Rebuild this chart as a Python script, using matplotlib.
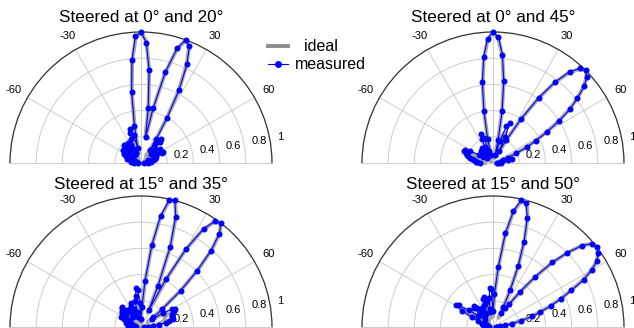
import numpy as np
import matplotlib
matplotlib.use("Agg")
import matplotlib.pyplot as plt
from matplotlib.lines import Line2D

plt.rcParams["font.family"] = ["Liberation Sans", "DejaVu Sans"]

# angular sampling of the scan, degrees (rows of 8 below: -90, -70, -50, -30, -10, 10, 30, 50, 70, 90)
THETA = np.arange(-90, 90.01, 2.5)
TITLES = ["Steered at 0° and 20°", "Steered at 0° and 45°",
          "Steered at 15° and 35°", "Steered at 15° and 50°"]
RTICKS = [0.2, 0.4, 0.6, 0.8, 1.0]
RTICK_LABELS = ["0.2", "0.4", "0.6", "0.8", "1"]
TTICKS = [-90, -60, -30, 0, 30, 60, 90]
TTICK_LABELS = ["", "-60", "-30", "", "30", "60", ""]

MEAS_0_20 = [0.02, 0.05, 0.08, 0.06, 0.03, 0.07, 0.11, 0.10,
             0.05, 0.08, 0.13, 0.15, 0.12, 0.15, 0.17, 0.14,
             0.08, 0.12, 0.17, 0.19, 0.15, 0.08, 0.13, 0.18,
             0.16, 0.09, 0.12, 0.20, 0.24, 0.27, 0.22, 0.12,
             0.29, 0.55, 0.79, 0.97, 1.00, 0.92, 0.71, 0.42,
             0.20, 0.43, 0.72, 0.92, 1.00, 0.965, 0.83, 0.63,
             0.40, 0.22, 0.12, 0.18, 0.24, 0.22, 0.15, 0.10,
             0.14, 0.18, 0.17, 0.13, 0.15, 0.19, 0.18, 0.12,
             0.06, 0.08, 0.11, 0.09, 0.05, 0.06, 0.08, 0.05,
             0.02]
IDEAL_0_20 = [0.01, 0.03, 0.05, 0.04, 0.01, 0.04, 0.07, 0.06,
              0.02, 0.05, 0.09, 0.10, 0.07, 0.09, 0.11, 0.08,
              0.03, 0.08, 0.12, 0.13, 0.09, 0.03, 0.09, 0.13,
              0.11, 0.04, 0.08, 0.15, 0.19, 0.20, 0.16, 0.07,
              0.27, 0.54, 0.78, 0.95, 1.00, 0.93, 0.72, 0.44,
              0.19, 0.42, 0.71, 0.91, 1.00, 0.96, 0.82, 0.62,
              0.39, 0.20, 0.07, 0.12, 0.17, 0.16, 0.10, 0.05,
              0.09, 0.12, 0.12, 0.08, 0.10, 0.13, 0.12, 0.07,
              0.03, 0.05, 0.07, 0.05, 0.02, 0.04, 0.05, 0.03,
              0.01]

MEAS_0_45 = [0.10, 0.12, 0.13, 0.15, 0.16, 0.18, 0.20, 0.21,
             0.22, 0.24, 0.24, 0.20, 0.12, 0.09, 0.12, 0.10,
             0.06, 0.10, 0.13, 0.12, 0.07, 0.10, 0.14, 0.12,
             0.08, 0.14, 0.20, 0.24, 0.20, 0.10, 0.06, 0.19,
             0.40, 0.62, 0.815, 0.95, 1.00, 0.96, 0.83, 0.63,
             0.40, 0.18, 0.06, 0.18, 0.30, 0.33, 0.22, 0.10,
             0.20, 0.40, 0.61, 0.78, 0.91, 0.98, 1.00, 0.97,
             0.91, 0.81, 0.72, 0.60, 0.48, 0.37, 0.29, 0.19,
             0.12, 0.08, 0.12, 0.15, 0.12, 0.06, 0.04, 0.06,
             0.03]
IDEAL_0_45 = [0.06, 0.08, 0.09, 0.10, 0.11, 0.12, 0.13, 0.14,
              0.15, 0.16, 0.15, 0.12, 0.06, 0.04, 0.07, 0.06,
              0.02, 0.06, 0.08, 0.07, 0.03, 0.06, 0.09, 0.08,
              0.04, 0.09, 0.14, 0.17, 0.14, 0.06, 0.04, 0.18,
              0.39, 0.61, 0.80, 0.94, 1.00, 0.95, 0.82, 0.62,
              0.39, 0.17, 0.04, 0.14, 0.24, 0.26, 0.17, 0.06,
              0.19, 0.39, 0.60, 0.77, 0.90, 0.97, 1.00, 0.97,
              0.90, 0.81, 0.71, 0.59, 0.47, 0.36, 0.27, 0.17,
              0.09, 0.05, 0.08, 0.10, 0.08, 0.04, 0.02, 0.03,
              0.02]

MEAS_15_35 = [0.04, 0.08, 0.10, 0.08, 0.05, 0.09, 0.12, 0.11,
              0.07, 0.10, 0.14, 0.17, 0.15, 0.10, 0.14, 0.18,
              0.19, 0.16, 0.20, 0.21, 0.17, 0.10, 0.12, 0.16,
              0.15, 0.10, 0.18, 0.20, 0.15, 0.08, 0.12, 0.20,
              0.24, 0.30, 0.28, 0.18, 0.06, 0.15, 0.355, 0.63,
              0.86, 0.99, 1.00, 0.88, 0.65, 0.335, 0.14, 0.41,
              0.69, 0.89, 0.99, 1.00, 0.93, 0.79, 0.60, 0.41,
              0.21, 0.12, 0.10, 0.20, 0.27, 0.29, 0.28, 0.26,
              0.25, 0.25, 0.25, 0.22, 0.19, 0.14, 0.09, 0.05,
              0.02]
IDEAL_15_35 = [0.02, 0.05, 0.06, 0.05, 0.02, 0.05, 0.08, 0.07,
               0.03, 0.06, 0.09, 0.11, 0.09, 0.05, 0.09, 0.12,
               0.13, 0.10, 0.14, 0.15, 0.11, 0.05, 0.07, 0.11,
               0.10, 0.05, 0.12, 0.14, 0.10, 0.04, 0.08, 0.15,
               0.19, 0.24, 0.22, 0.12, 0.03, 0.14, 0.34, 0.62,
               0.85, 0.98, 1.00, 0.89, 0.66, 0.34, 0.12, 0.40,
               0.68, 0.88, 0.98, 1.00, 0.94, 0.80, 0.61, 0.40,
               0.19, 0.07, 0.06, 0.15, 0.21, 0.23, 0.22, 0.20,
               0.19, 0.19, 0.19, 0.16, 0.13, 0.09, 0.05, 0.03,
               0.01]

MEAS_15_50 = [0.03, 0.05, 0.07, 0.06, 0.04, 0.06, 0.09, 0.08,
              0.05, 0.12, 0.18, 0.27, 0.33, 0.31, 0.22, 0.14,
              0.08, 0.14, 0.20, 0.22, 0.19, 0.15, 0.10, 0.14,
              0.17, 0.16, 0.12, 0.18, 0.23, 0.24, 0.20, 0.12,
              0.14, 0.22, 0.30, 0.29, 0.12, 0.25, 0.46, 0.72,
              0.90, 0.99, 0.98, 0.87, 0.69, 0.50, 0.31, 0.17,
              0.12, 0.17, 0.21, 0.34, 0.50, 0.67, 0.80, 0.92,
              0.99, 1.00, 0.98, 0.94, 0.87, 0.78, 0.66, 0.56,
              0.47, 0.375, 0.31, 0.22, 0.145, 0.09, 0.05, 0.03,
              0.02]
IDEAL_15_50 = [0.02, 0.03, 0.04, 0.03, 0.02, 0.03, 0.05, 0.04,
               0.02, 0.07, 0.13, 0.22, 0.27, 0.25, 0.17, 0.09,
               0.04, 0.09, 0.14, 0.16, 0.14, 0.10, 0.05, 0.09,
               0.12, 0.11, 0.07, 0.12, 0.17, 0.18, 0.14, 0.07,
               0.08, 0.16, 0.23, 0.22, 0.08, 0.23, 0.45, 0.71,
               0.89, 0.98, 0.99, 0.88, 0.70, 0.51, 0.31, 0.15,
               0.08, 0.14, 0.20, 0.33, 0.49, 0.66, 0.80, 0.92,
               0.99, 1.00, 0.98, 0.94, 0.87, 0.77, 0.65, 0.55,
               0.46, 0.37, 0.30, 0.21, 0.14, 0.08, 0.04, 0.02,
               0.01]

W, H = 634, 328
R = 131   # half-disc radius in pixels


def panel(fig, cx, cy, title, ideal, meas, title_y):
    # polar wedge bbox is squared around the half disc, so use a square box
    ymid = cy - R / 2
    rect = ((cx - R) / W, (H - ymid - R) / H, 2 * R / W, 2 * R / H)
    ax = fig.add_axes(rect, projection="polar")
    ax.set_theta_zero_location("N"); ax.set_theta_direction(-1)
    ax.set_thetamin(-90); ax.set_thetamax(90)
    ax.set_rlim(0, 1)
    ax.set_thetagrids(TTICKS, TTICK_LABELS, fontsize=8)
    ax.set_rgrids(RTICKS, labels=[""] * len(RTICKS))
    ax.tick_params(axis="x", pad=1)
    ax.grid(color="#cccccc", lw=0.7)
    ax.spines["polar"].set(color="0.2", lw=0.9)
    for s in ("start", "end"):
        ax.spines[s].set(color="#cccccc", lw=0.7)
    for r, lab in zip(RTICKS, RTICK_LABELS):
        ax.annotate(lab, xy=(np.radians(80), r), xytext=(5, 2.5), textcoords="offset points",
                    ha="left", va="center", fontsize=8, annotation_clip=False)
    th = np.radians(THETA)
    ax.plot(th, ideal, color="0.66", lw=2.8, clip_on=False, zorder=3)
    ax.plot(th, meas, color="blue", lw=0.8, marker="o", ms=3.3, clip_on=False, zorder=4)
    fig.text(cx / W, title_y, title, ha="center", va="center", fontsize=12.3)
    return ax


def main():
    fig = plt.figure(figsize=(W / 100, H / 100), dpi=100)
    centers = [(141, 163), (493, 163), (141, 327), (493, 327)]
    ty = [1 - 18 / H, 1 - 18 / H, 1 - 184 / H, 1 - 184 / H]
    data = [(IDEAL_0_20, MEAS_0_20), (IDEAL_0_45, MEAS_0_45),
            (IDEAL_15_35, MEAS_15_35), (IDEAL_15_50, MEAS_15_50)]
    for (cx, cy), title, (ideal, meas), y in zip(centers, TITLES, data, ty):
        panel(fig, cx, cy, title, ideal, meas, y)

    handles = [Line2D([], [], color="0.55", lw=2.8),
               Line2D([], [], color="blue", lw=0.8, marker="o", ms=4)]
    fig.legend(handles, ["  ideal", "measured"], loc="upper left",
               bbox_to_anchor=(265 / W, 1 - 36 / H), frameon=False, fontsize=11.5,
               handlelength=1.25, handletextpad=0.45, labelspacing=0.2, borderpad=0.2,
               borderaxespad=0)
    fig.savefig("out.png", dpi=100)
    plt.close(fig)


if __name__ == "__main__":
    main()
